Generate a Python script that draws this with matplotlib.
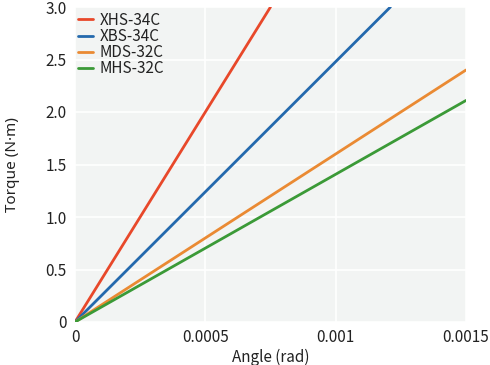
import matplotlib
matplotlib.use("Agg")
import matplotlib.pyplot as plt

plt.rcParams['font.family'] = ['Noto Sans CJK JP', 'DejaVu Sans']

models = ["XHS-34C", "XBS-34C", "MDS-32C", "MHS-32C"]
colors = ["#e8482a", "#2469ad", "#ea8a33", "#3b9a37"]
angle_x = {
    "XHS-34C": [0, 0.00075],
    "XBS-34C": [0, 0.00121],
    "MDS-32C": [0, 0.0015],
    "MHS-32C": [0, 0.0015],
}
torque_y = {
    "XHS-34C": [0, 3.0],
    "XBS-34C": [0, 3.0],
    "MDS-32C": [0, 2.40],
    "MHS-32C": [0, 2.11],
}
xticks = [0, 0.0005, 0.001, 0.0015]
xticklabels = ["0", "0.0005", "0.001", "0.0015"]
yticks = [0, 0.5, 1.0, 1.5, 2.0, 2.5, 3.0]
yticklabels = ["0", "0.5", "1.0", "1.5", "2.0", "2.5", "3.0"]

fs = 11
fig = plt.figure(figsize=(4.9, 3.65), dpi=100)
ax = fig.add_axes([75/490, 1-322/365, (466-75)/490, (322-7)/365])
ax.set_facecolor("#f2f4f3")
for m, c in zip(models, colors):
    ax.plot(angle_x[m], torque_y[m], color=c, lw=2.0, solid_capstyle="round", label=m, zorder=3)

ax.set_xlim(0, 0.0015)
ax.set_ylim(0, 3.0)
ax.set_xticks(xticks)
ax.set_xticklabels(xticklabels)
ax.set_yticks(yticks)
ax.set_yticklabels(yticklabels)
ax.grid(True, color="white", lw=1.2)
ax.set_axisbelow(True)
for s in ax.spines.values():
    s.set_visible(False)
ax.tick_params(axis="both", length=0, labelsize=fs, colors="#222222")
ax.tick_params(axis="x", pad=5)
ax.tick_params(axis="y", pad=6)
ax.set_xlabel("Angle (rad)", fontsize=fs, color="#222222", labelpad=2)
ax.set_ylabel("Torque (N·m)", fontsize=fs, color="#222222", labelpad=18,
              family=["Noto Sans", "DejaVu Sans"])
leg = ax.legend(loc="upper left", frameon=False, fontsize=fs, handlelength=1.0,
                handletextpad=0.4, labelspacing=-0.05, borderaxespad=0.0,
                borderpad=0.2, bbox_to_anchor=(0.0, 0.995))
for t in leg.get_texts():
    t.set_color("#222222")
fig.savefig("out.png", dpi=100)
